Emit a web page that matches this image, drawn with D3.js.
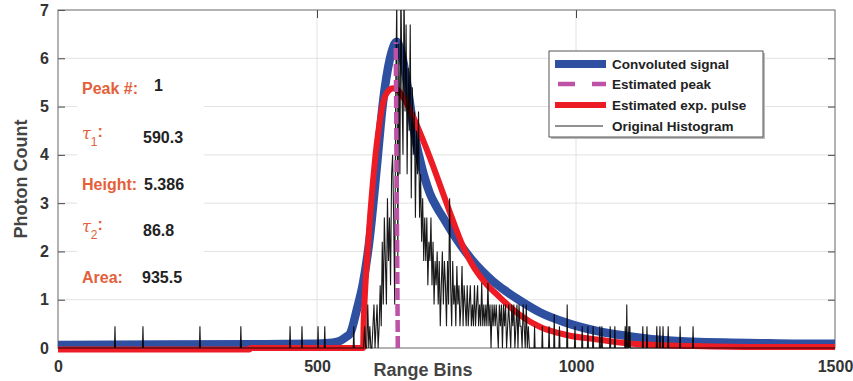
<!DOCTYPE html>
<html><head><meta charset="utf-8">
<script src="https://cdn.jsdelivr.net/npm/d3@7"></script>
<style>
html,body{margin:0;padding:0;background:#fff;}
svg{display:block;font-family:"Liberation Sans",Arial,sans-serif;}
</style></head>
<body>
<svg id="chart" width="853" height="381"></svg>
<script>
// ---- data ----
const xTicks = [0, 500, 1000, 1500];
const yTicks = [0, 1, 2, 3, 4, 5, 6, 7];

const convBins = [0,200,400,500,530,545,555,564,577,589,602,615,627,641,654,666,675,685,692,699,708,718,732,747,763,780,798,818,840,863,892,930,982,1046,1098,1160,1226,1300,1355,1420,1500];
const convVals = [0.06,0.07,0.08,0.09,0.11,0.15,0.22,0.3,0.8,1.35,2.3,3.7,5.05,6.0,6.34,5.96,5.4,4.65,4.22,3.89,3.52,3.2,2.9,2.64,2.36,2.09,1.84,1.6,1.38,1.19,0.98,0.74,0.52,0.34,0.25,0.17,0.13,0.11,0.1,0.09,0.09];

const pulseBins = [0,370,372,589,590,592,598,603,608,613,618,627,636,647,656,666,683,703,722,741,761,780,799,824,853,873,892,930,982,1046,1098,1160,1226,1350,1500];
const pulseVals = [-0.03,-0.03,0,0,0.5,1.0,2.05,2.8,3.45,4.0,4.45,5.05,5.3,5.38,5.34,5.2,4.85,4.35,3.83,3.27,2.68,2.15,1.74,1.36,1.05,0.85,0.68,0.44,0.27,0.17,0.1,0.06,0.04,0.02,0.02];

const peakBins = [656, 652];
const peakVals = [0, 6.33];

// original histogram: dense part (start bin 590, every 2 bins)
const histStart = 590, histStep = 2;
const histDense = [
  0,0.45,0,0,0.9,0,0.45,0,0,0.45,0.9,0,0.45,0.9,0,0.45,
  1.3,0.45,2.2,0.9,2.7,1.8,
  0.9,3.1,1.8,2.7,1.3,3.6,
  4.0,2.7,0.9,5.4,
  7.2,1.8,6.3,3.6,7.5,5.4,4.0,7.5,4.9,6.7,
  3.6,5.8,4.5,6.7,3.1,5.4,4.0,4.9,2.7,4.5,3.6,
  4.9,2.7,3.6,2.2,3.1,1.8,2.7,
  1.8,2.7,1.3,2.2,1.8,2.7,1.3,2.2,0.9,1.8,
  1.3,2.0,0.9,1.8,0.45,1.3,2.0,0.9,1.8,1.3,0.45,1.8,0.9,3.1,
  1.3,0.45,1.8,0.9,1.3,0.45,1.7,0.9,1.3,0.45,0.9,1.7,0.45,1.3,0.9,0.45,1.3,0.45,0.9,1.3,0.45,0.9,0.45,1.3,0.45,0.9,1.3,0.45,0.9,
  0.45,1.35,0.45,0.9,0.45,0.9,0.45,1.35,0.45,0.9,0,0.9,0.45,0.9,0.45,0.9,0.45,0,0.9,
  0.45,0.9,0,0.9,0.45,0.9,0,0.45,0.9,0.45,0,0.9,0.45,0.9,0,0.45,0.9,0,0.9,0.45,0.45,0,0.9,0.45,0,0.9,0,0.45,0
];
// isolated spikes
const spikeBins = [110,164,274,353,448,471,502,515,571,920,935,948,958,968,983,998,1012,1023,1033,1046,1050,1066,1075,1095,1098,1102,1104,1129,1137,1156,1162,1168,1178,1201,1226];
const spikeVals = [0.45,0.45,0.45,0.45,0.45,0.45,0.45,0.45,0.45,0.45,0.45,0.45,0.7,0.45,0.9,0.45,0.45,0.45,0.45,0.45,0.45,0.45,0.45,0.45,0.9,0.45,0.45,0.45,0.45,0.45,0.45,0.45,0.45,0.45,0.45];

const legendLabels = ["Convoluted signal","Estimated peak","Estimated exp. pulse","Original Histogram"];
const infoLabels = ["Peak #:","τ1:","Height:","τ2:","Area:"];
const infoValues = ["1","590.3","5.386","86.8","935.5"];

// ---- chart ----
const svg = d3.select("#chart");
const x = d3.scaleLinear().domain([0,1500]).range([58,835]);
const y = d3.scaleLinear().domain([0,7]).range([348,10]);
const cBlue="#2f50a0", cRed="#ed1c24", cPink="#bd52a6", cText="#333";

svg.append("defs").append("clipPath").attr("id","clip")
  .append("rect").attr("x",58).attr("y",10).attr("width",777).attr("height",338+6);

// grid
const g = svg.append("g");
g.selectAll(".hg").data(yTicks.filter(d=>d>0&&d<7)).enter().append("line")
  .attr("x1",x(0)).attr("x2",x(1500)).attr("y1",d=>y(d)).attr("y2",d=>y(d))
  .attr("stroke","#e2e2e2").attr("stroke-width",1);
g.selectAll(".vg").data(xTicks.filter(d=>d>0&&d<1500)).enter().append("line")
  .attr("y1",y(0)).attr("y2",y(7)).attr("x1",d=>x(d)).attr("x2",d=>x(d))
  .attr("stroke","#e2e2e2").attr("stroke-width",1);

// annotation background box
svg.append("rect").attr("x",77).attr("y",68).attr("width",127).attr("height",225).attr("fill","#fff");

// axes
const axL = svg.append("g").attr("transform",`translate(${x(0)},0)`)
  .call(d3.axisLeft(y).tickValues(yTicks).tickSize(-7).tickPadding(9).tickFormat(d3.format("d")));
const axR = svg.append("g").attr("transform",`translate(${x(1500)},0)`)
  .call(d3.axisRight(y).tickValues(yTicks.filter(d=>d>0&&d<7)).tickSize(-7).tickFormat(""));
const axT = svg.append("g").attr("transform",`translate(0,${y(7)})`)
  .call(d3.axisTop(x).tickValues(xTicks.filter(d=>d>0&&d<1500)).tickSize(-8).tickFormat(""));
const axB = svg.append("g").attr("transform",`translate(0,${y(0)})`)
  .call(d3.axisBottom(x).tickValues(xTicks).tickSize(0).tickPadding(13).tickFormat(d3.format("d")));
[axL,axR,axT,axB].forEach(a=>{
  a.select(".domain").remove();
  a.selectAll("line").attr("stroke","#444").attr("stroke-width",1);
  a.selectAll("text").attr("fill",cText).attr("font-size",16).attr("font-weight","bold")
    .attr("font-family","'Liberation Sans',Arial,sans-serif");
});
// frame
svg.append("rect").attr("x",x(0)).attr("y",y(7)).attr("width",x(1500)-x(0)).attr("height",y(0)-y(7))
  .attr("fill","none").attr("stroke","#666").attr("stroke-width",1);

// series
const line = d3.line().x(d=>x(d[0])).y(d=>y(d[1]));
const smooth = d3.line().x(d=>x(d[0])).y(d=>y(d[1])).curve(d3.curveMonotoneX);
const plot = svg.append("g").attr("clip-path","url(#clip)");
plot.append("path").datum(convBins.map((b,i)=>[b,convVals[i]]))
  .attr("d",smooth).attr("fill","none").attr("stroke",cBlue).attr("stroke-width",8.5).attr("stroke-linejoin","round");
plot.append("path").datum(pulseBins.map((b,i)=>[b,pulseVals[i]]))
  .attr("d",smooth).attr("fill","none").attr("stroke",cRed).attr("stroke-width",6).attr("stroke-linejoin","round");

// histogram points
let hist = [[0,0],[1500,0]];
histDense.forEach((v,i)=>hist.push([histStart+i*histStep, v]));
spikeBins.forEach((b,i)=>{ hist.push([b-1,0]); hist.push([b,spikeVals[i]]); hist.push([b+1,0]); });
hist.push([histStart-2,0]);
hist.sort((a,b)=>a[0]-b[0]);
plot.append("path").datum(hist).attr("d",line).attr("fill","none")
  .attr("stroke","#000").attr("stroke-opacity",0.9).attr("stroke-width",1.1);

plot.append("path").datum(peakBins.map((b,i)=>[b,peakVals[i]]))
  .attr("d",line).attr("fill","none").attr("stroke",cPink).attr("stroke-width",4.5).attr("stroke-dasharray","12,4");

// axis titles
svg.append("text").attr("x",423).attr("y",376).attr("text-anchor","middle")
  .attr("font-size",18).attr("font-weight","bold").attr("fill","#444").text("Range Bins");
svg.append("text").attr("transform","translate(27,179) rotate(-90)").attr("text-anchor","middle")
  .attr("font-size",18).attr("font-weight","bold").attr("fill","#444").text("Photon Count");

// info annotations
const infoY = [94,143,190,236,283];
const valX = [154,143,144,143,142];
const cInfo = "#e4603a";
infoLabels.forEach((lab,i)=>{
  const t = svg.append("text").attr("x",82).attr("y",infoY[i]).attr("fill",cInfo)
    .attr("font-size",16).attr("font-weight","bold");
  if (lab.startsWith("τ")) {
    t.attr("font-weight","normal");
    t.append("tspan").attr("font-style","italic").attr("font-family","'DejaVu Serif',serif").attr("font-size",16).attr("dy",-4).text("τ");
    t.append("tspan").attr("font-size",12).attr("dy",7).text(lab[1]);
    t.append("tspan").attr("font-size",16).attr("font-weight","bold").attr("dy",-9).text(":");
  } else {
    t.text(lab);
  }
  svg.append("text").attr("x",valX[i]).attr("y",infoY[i]-(i===0?3:0)).attr("fill","#222")
    .attr("font-size",16).attr("font-weight","bold").text(infoValues[i]);
});

// legend
const lg = svg.append("g");
lg.append("rect").attr("x",551).attr("y",53).attr("width",214).attr("height",86).attr("fill","#bbb");
lg.append("rect").attr("x",549).attr("y",51).attr("width",214).attr("height",86).attr("fill","#fff").attr("stroke","#555").attr("stroke-width",1);
const rowsY = [64,84,105,126];
const styles = [
  {c:cBlue,w:8,d:null},{c:cPink,w:4.5,d:"17,17"},{c:cRed,w:6,d:null},{c:"#222",w:1,d:null}
];
legendLabels.forEach((lab,i)=>{
  const ln = lg.append("line").attr("x1",i===1?558:555).attr("x2",i===3?603:606).attr("y1",rowsY[i]).attr("y2",rowsY[i])
    .attr("stroke",styles[i].c).attr("stroke-width",styles[i].w);
  if (styles[i].d) ln.attr("stroke-dasharray",styles[i].d);
  lg.append("text").attr("x",612).attr("y",rowsY[i]+5).attr("font-size",13.5).attr("font-weight","bold")
    .attr("fill","#222").text(lab);
});
</script>
</body></html>
